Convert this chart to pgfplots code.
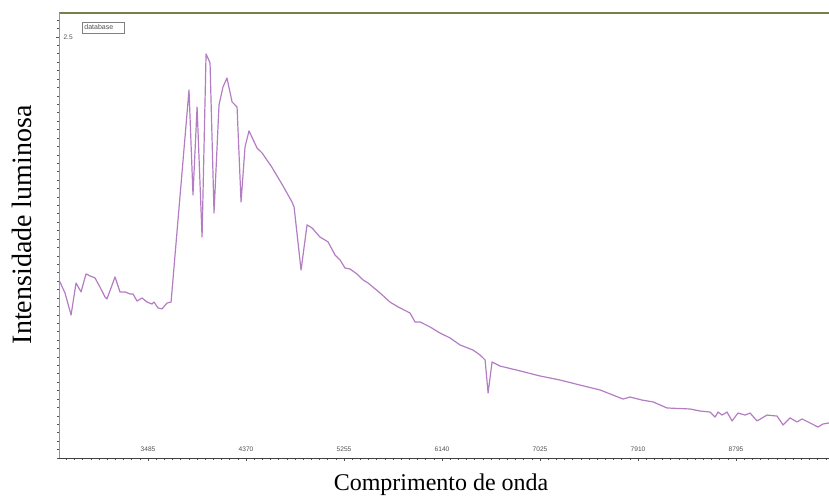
\documentclass[border=0pt]{standalone}
\usepackage{pgfplots}
\pgfplotsset{compat=1.18}
\usepackage{fontspec}
\newfontfamily\ticksf{Liberation Sans}
\newfontfamily\labserif{Liberation Serif}
\definecolor{curve}{RGB}{180,125,195}
\definecolor{frametop}{RGB}{118,128,78}
\definecolor{frameleft}{RGB}{165,160,70}
\definecolor{tickgray}{RGB}{80,80,80}
\begin{document}
\begin{tikzpicture}[x=1pt,y=1pt]
\begin{axis}[
  name=ax,
  at={(59pt,38pt)}, anchor=south west,
  width=775pt, height=445pt, scale only axis,
  xmin=2681, xmax=9680, ymin=0, ymax=2.642,
  axis line style={draw=none},
  tick align=outside,
  xtick pos=bottom, ytick pos=left,
  xtick={3485,4370,5255,6140,7025,7910,8795},
  xticklabels={3485,4370,5255,6140,7025,7910,8795},
  minor xtick={2600,2673.75,...,9700},
  ytick={2.5}, yticklabels={2.5},
  minor ytick={0,0.05,...,2.64},
  major tick length=3pt, minor tick length=2pt,
  every tick/.style={draw=tickgray, line width=0.6pt},
  xticklabel style={font=\ticksf\fontsize{6.6}{7}\selectfont, text=tickgray, anchor=south, yshift=5.5pt},
  yticklabel style={font=\ticksf\fontsize{6.6}{7}\selectfont, text=tickgray, anchor=west, xshift=4pt},
  xlabel={Comprimento de onda},
  ylabel={Intensidade luminosa},
  xlabel style={font=\labserif\fontsize{24}{28}\selectfont, at={(axis description cs:0.493,0)}, anchor=north, yshift=-12pt},
  ylabel style={font=\labserif\fontsize{28}{32}\selectfont, at={(axis description cs:-0.031,0.524)}, anchor=south},
  legend image code/.code={},
  legend style={at={(rel axis cs:0.0297,0.979)}, anchor=north west, draw=gray,
    font=\ticksf\fontsize{7}{8}\selectfont, inner sep=0.2pt, text=tickgray},
  legend cell align=left,
]
\addplot[curve, line width=1.2pt, line join=round] coordinates {
(2681,1.057) (2735,0.980) (2790,0.849) (2835,1.039) (2880,0.986) (2925,1.093)
(2961,1.081) (3006,1.069) (3051,1.015) (3096,0.956) (3114,0.944) (3187,1.075)
(3232,0.986) (3277,0.986) (3322,0.974) (3349,0.974) (3386,0.932) (3431,0.950)
(3476,0.926) (3521,0.914) (3539,0.926) (3575,0.891) (3611,0.885) (3657,0.920)
(3693,0.926) (3855,2.185) (3891,1.562) (3928,2.084) (3973,1.312) (4009,2.399)
(4045,2.346) (4081,1.455) (4126,2.096) (4162,2.203) (4198,2.256) (4244,2.114)
(4289,2.084) (4325,1.520) (4361,1.847) (4397,1.942) (4469,1.841) (4515,1.811)
(4600,1.73) (4700,1.62) (4785,1.520) (4804,1.490) (4867,1.116) (4921,1.384)
(4966,1.366) (5038,1.312) (5111,1.283) (5174,1.205) (5219,1.176) (5264,1.128)
(5309,1.122) (5372,1.093) (5427,1.057) (5472,1.039) (5580,0.980) (5670,0.926)
(5743,0.897) (5851,0.861) (5896,0.808) (5941,0.808) (6032,0.778) (6122,0.742)
(6212,0.713) (6303,0.671) (6420,0.641) (6483,0.612) (6529,0.582) (6556,0.386)
(6592,0.570) (6664,0.546) (6845,0.517) (7025,0.487) (7206,0.463) (7386,0.433)
(7567,0.404) (7775,0.350) (7838,0.362) (7946,0.344) (8046,0.333) (8172,0.297)
(8380,0.291) (8470,0.279) (8560,0.273) (8606,0.243) (8633,0.273) (8669,0.255)
(8714,0.273) (8759,0.220) (8813,0.267) (8877,0.255) (8922,0.267) (8985,0.220)
(9075,0.255) (9166,0.249) (9220,0.196) (9283,0.238) (9346,0.214) (9391,0.232)
(9464,0.208) (9536,0.184) (9581,0.202) (9635,0.208)
};
\addlegendentry{\makebox[38pt][l]{database}}
\draw[frametop, line width=1.6pt] (rel axis cs:0,1) -- (rel axis cs:1,1);
\draw[frameleft, line width=1.3pt] (rel axis cs:0,0) -- (rel axis cs:0,1);
\draw[black!75, line width=1pt] (rel axis cs:0,0) -- (rel axis cs:1,0);
\end{axis}
\pgfresetboundingbox
\path[use as bounding box] (0,0) rectangle (829,496);
\end{tikzpicture}
\end{document}
